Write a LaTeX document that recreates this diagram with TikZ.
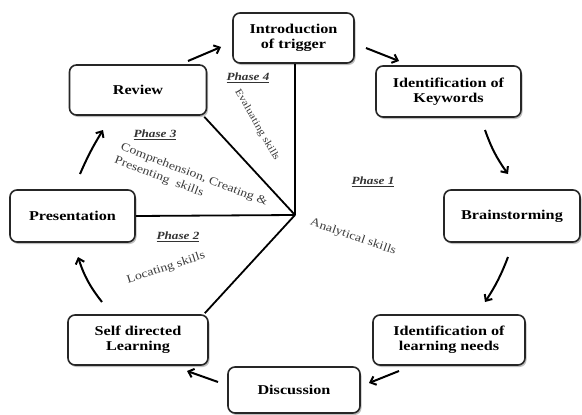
\documentclass[tikz,border=0pt]{standalone}
\usepackage{fontspec}
\setmainfont{Liberation Serif}[FakeStretch=1.2]
\usetikzlibrary{arrows.meta,shadows}
\definecolor{lbl}{RGB}{60,60,60}
\begin{document}
\begin{tikzpicture}[x=1pt,y=-1pt,
  stage/.style={draw=black!85, line width=1.6pt, rounded corners=7pt, fill=white,
    align=center, font=\fontsize{13.5}{15}\selectfont\bfseries, inner sep=2pt,
    drop shadow={shadow xshift=1.5pt, shadow yshift=-2pt, fill=black!50, opacity=0.5}},
  flow/.style={line width=2pt, -{Straight Barb[length=5pt,width=9pt,line width=2pt]}},
  spoke/.style={line width=1.8pt, black},
  phase/.style={font=\fontsize{11}{12}\selectfont\bfseries\itshape, text=black!80, inner sep=1pt},
  skill/.style={font=\fontsize{11.5}{12}\selectfont, text=lbl, inner sep=0pt, align=left}]
\useasboundingbox (0,0) rectangle (582,415);
\fill[white] (0,0) rectangle (582,415);

\node[stage, minimum width=121pt, minimum height=50pt] (intro) at (293.5,38) {Introduction\\of trigger};
\node[stage, minimum width=145pt, minimum height=51pt] (keys) at (448.5,91.5) {Identification of\\Keywords};
\node[stage, minimum width=136pt, minimum height=52pt] (brain) at (512,216) {Brainstorming};
\node[stage, minimum width=152pt, minimum height=50pt] (needs) at (449,340) {Identification of\\learning needs};
\node[stage, minimum width=132pt, minimum height=46pt] (disc) at (294,390) {Discussion};
\node[stage, minimum width=140pt, minimum height=50pt] (self) at (138,340) {Self directed\\Learning};
\node[stage, minimum width=125pt, minimum height=52pt] (pres) at (72.5,216) {Presentation};
\node[stage, minimum width=137pt, minimum height=50pt] (rev) at (138,90) {Review};

\coordinate (hub) at (295,215);
\draw[spoke] (intro.south -| hub) -- (hub);
\draw[spoke] (pres.east) -- (hub);
\draw[spoke] ([xshift=-3pt,yshift=-1pt]rev.south east) -- (hub);
\draw[spoke] ([xshift=-4pt,yshift=1pt]self.north east) -- (hub);

% flow arrows
\coordinate (a1s) at (188,61); \coordinate (a1e) at (221,47);
\coordinate (a2s) at (366,48); \coordinate (a2e) at (399,61);
\coordinate (a3s) at (485,130); \coordinate (a3e) at (508,174);
\coordinate (a4s) at (508,257); \coordinate (a4e) at (485,302);
\coordinate (a5s) at (399,371); \coordinate (a5e) at (369,383);
\coordinate (a6s) at (218,382); \coordinate (a6e) at (187,371);
\coordinate (a7s) at (102,302); \coordinate (a7e) at (78,257);
\coordinate (a8s) at (80,174); \coordinate (a8e) at (103,130);
\draw[flow] (a1s) -- (a1e);
\draw[flow] (a2s) -- (a2e);
\draw[flow] (a3s) to[bend right=8] (a3e);
\draw[flow] (a4s) to[bend left=6] (a4e);
\draw[flow] (a5s) -- (a5e);
\draw[flow] (a6s) -- (a6e);
\draw[flow] (a7s) to[bend left=10] (a7e);
\draw[flow] (a8s) to[bend left=4] (a8e);

% labels
\node[phase] (p4) at (248,78) {\underline{Phase 4}};
\node[skill, rotate=-60, font=\fontsize{10}{11}\selectfont] (s4) at (257,125) {Evaluating skills};
\node[phase] (p3) at (155,135) {\underline{Phase 3}};
\node[skill, rotate=-21] (s3a) at (194,175) {Comprehension, Creating \&};
\node[skill, rotate=-21] (s3b) at (159,177) {Presenting\ \ skills};
\node[phase] (p1) at (373,182) {\underline{Phase 1}};
\node[skill, rotate=-19] (s1) at (353,237) {Analytical skills};
\node[phase] (p2) at (178,237) {\underline{Phase 2}};
\node[skill, rotate=18] (s2) at (166,268) {Locating skills};
\end{tikzpicture}
\end{document}
